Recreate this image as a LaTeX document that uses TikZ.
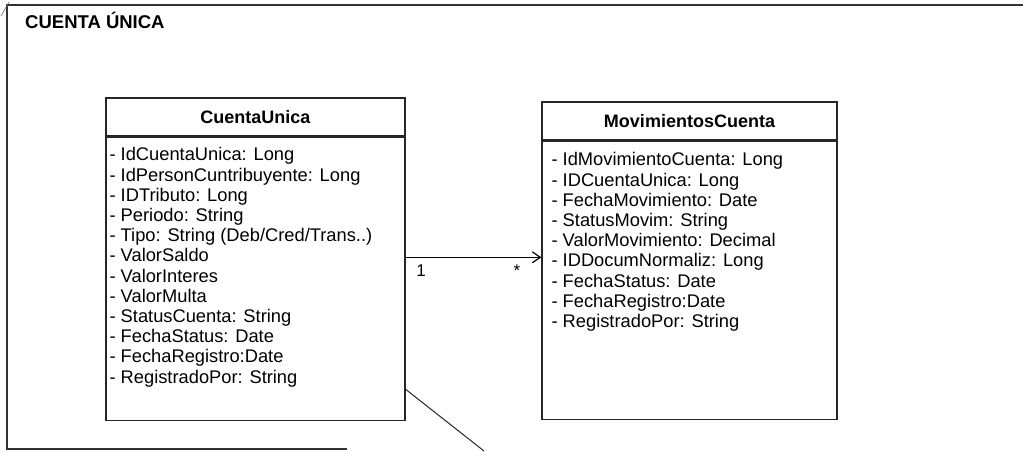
\documentclass[tikz,border=0pt]{standalone}
\usepackage{fontspec}
\setmainfont{Liberation Sans}
\usetikzlibrary{arrows.meta,positioning}

\begin{document}
\begin{tikzpicture}[x=1pt,y=-1pt,
  ln/.style={draw=black!85,line width=1.3pt},
  hd/.style={ln,minimum width=299pt,minimum height=38pt,inner sep=0pt,font=\fontsize{18}{21}\selectfont\bfseries},
  bd/.style={ln,minimum width=299pt,inner sep=0pt},
  attr/.style={align=left,inner sep=0pt,anchor=north west,font=\fontsize{18.3}{20.2}\selectfont},
  a/.style={-{Straight Barb[length=8pt,width=11pt]},line width=1.2pt}]
\useasboundingbox (0,0) rectangle (1023,451);
% container
\draw[black!80,line width=1.2pt] (347,449) -- (7,449) -- (7,5) -- (1023,5);
\draw[black!60,line width=0.6pt] (1,16) -- (9,2);
\node[anchor=base west,inner sep=0pt,font=\fontsize{18.5}{21}\selectfont\bfseries] (ttl) at (25,28) {CUENTA ÚNICA};
% CuentaUnica
\node[hd] (cuh) at (255.5,117) {CuentaUnica};
\node[bd,minimum height=283pt,below=0pt of cuh] (cub) {};
\node[attr] (cut) at ([shift={(4,10.7)}]cub.north west) {- IdCuentaUnica: Long\\- IdPersonCuntribuyente: Long\\- IDTributo: Long\\- Periodo: String\\- Tipo: String (Deb/Cred/Trans..)\\- ValorSaldo\\- ValorInteres\\- ValorMulta\\- StatusCuenta: String\\- FechaStatus: Date\\- FechaRegistro:Date\\- RegistradoPor: String};
% MovimientosCuenta
\node[hd,minimum width=295pt] (mvh) at (689.5,121) {MovimientosCuenta};
\node[bd,minimum width=295pt,minimum height=278pt,below=0pt of mvh] (mvb) {};
\node[attr] (mvt) at ([shift={(10,11.7)}]mvb.north west) {- IdMovimientoCuenta: Long\\- IDCuentaUnica: Long\\- FechaMovimiento: Date\\- StatusMovim: String\\- ValorMovimiento: Decimal\\- IDDocumNormaliz: Long\\- FechaStatus: Date\\- FechaRegistro:Date\\- RegistradoPor: String};
% links
\draw[a] ([yshift=21.5pt]cub.east) coordinate (p) -- (p -| mvb.west);
\node[font=\fontsize{17}{20}\selectfont] (one) at (421,271) {1};
\node[font=\fontsize{17}{20}\selectfont] (many) at (517,271) {*};
\coordinate (out) at (484,451);
\draw[black!85,line width=1pt] ([yshift=-110.5pt]cub.east) -- (out);
\end{tikzpicture}
\end{document}
